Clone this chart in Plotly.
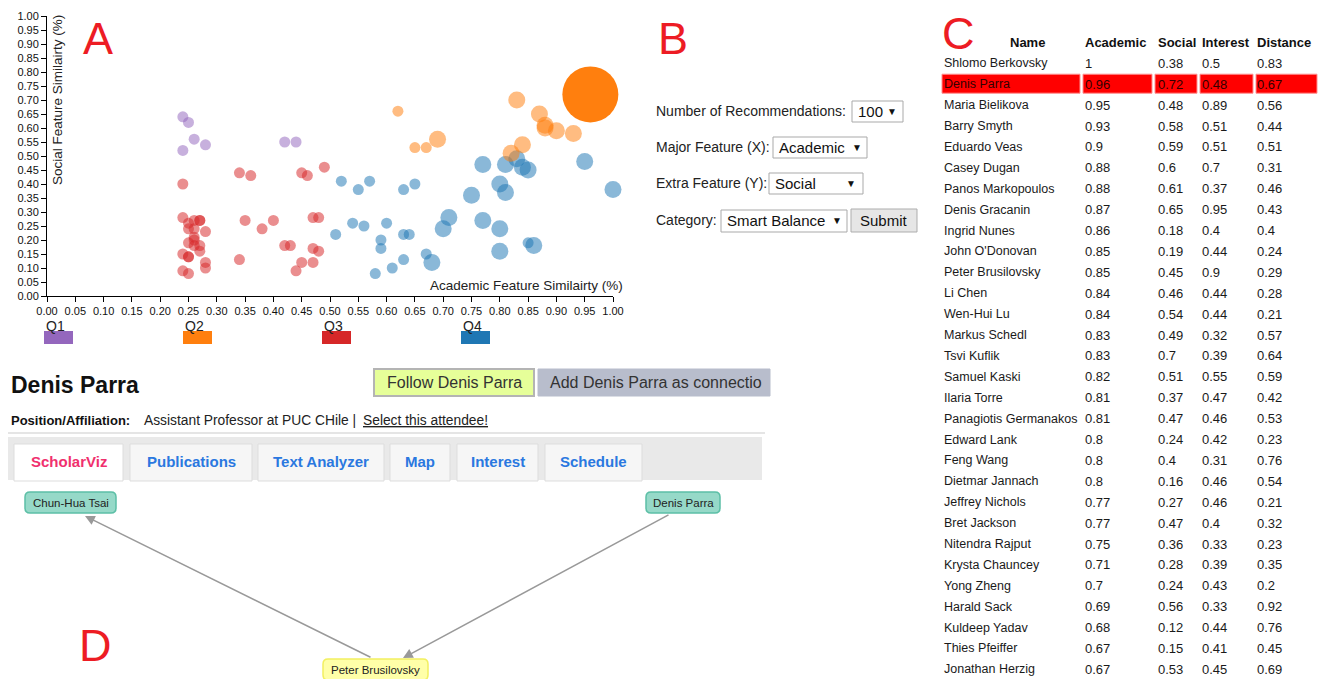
import plotly.graph_objects as go

W, H = 1325, 679
FONT = "Liberation Sans, Arial, sans-serif"

# ---- panel A: scatter data (academic = x, social = y) ----
q1_academic = [0.24, 0.25, 0.26, 0.28, 0.24, 0.42, 0.44]
q1_social = [0.64, 0.62, 0.56, 0.54, 0.52, 0.55, 0.55]

q2_academic = [0.62, 0.65, 0.67, 0.69, 0.82, 0.84, 0.83, 0.87, 0.88, 0.88, 0.90, 0.93]
q2_social = [0.66, 0.53, 0.53, 0.56, 0.51, 0.54, 0.70, 0.65, 0.61, 0.60, 0.59, 0.58]
q2_large = [0, 0, 0, 1, 1, 1, 1, 1, 1, 1, 1, 1]

q3_academic = [0.24, 0.24, 0.25, 0.26, 0.27, 0.27, 0.25, 0.26, 0.28, 0.26, 0.26,
               0.25, 0.26, 0.27, 0.27, 0.24, 0.25, 0.25, 0.28, 0.28, 0.24, 0.25,
               0.34, 0.36, 0.35, 0.40, 0.38, 0.34, 0.42, 0.43, 0.45, 0.46, 0.49,
               0.47, 0.48, 0.47, 0.48, 0.45, 0.47, 0.44]
q3_social = [0.40, 0.28, 0.26, 0.27, 0.27, 0.27, 0.24, 0.24, 0.23, 0.20, 0.21,
             0.19, 0.18, 0.18, 0.16, 0.15, 0.14, 0.14, 0.12, 0.10, 0.09, 0.08,
             0.44, 0.43, 0.27, 0.27, 0.24, 0.13, 0.18, 0.18, 0.44, 0.43, 0.46,
             0.28, 0.28, 0.17, 0.16, 0.12, 0.12, 0.09]

q4_academic = [1.00, 0.95, 0.77, 0.81, 0.83, 0.84, 0.85, 0.80, 0.81, 0.75, 0.71,
               0.70, 0.77, 0.80, 0.80, 0.86, 0.68, 0.85, 0.67, 0.52, 0.55, 0.57,
               0.63, 0.65, 0.54, 0.56, 0.60, 0.51, 0.63, 0.64, 0.59, 0.59, 0.63,
               0.61, 0.58]
q4_social = [0.38, 0.48, 0.47, 0.47, 0.49, 0.46, 0.45, 0.40, 0.37, 0.36, 0.28,
             0.24, 0.27, 0.24, 0.16, 0.18, 0.12, 0.19, 0.15, 0.41, 0.38, 0.41,
             0.38, 0.40, 0.26, 0.25, 0.26, 0.22, 0.22, 0.22, 0.20, 0.17, 0.13,
             0.10, 0.08]
q4_large = [1, 1, 1, 1, 1, 1, 1, 1, 1, 1, 1, 1, 1, 1, 1, 1, 1, 0, 0, 0, 0, 0,
            0, 0, 0, 0, 0, 0, 0, 0, 0, 0, 0, 0, 0]

selected_name = "Denis Parra"
selected_academic = [0.96]
selected_social = [0.72]

quadrants = ["Q1", "Q2", "Q3", "Q4"]
quad_colors = ["#9467bd", "#ff7f0e", "#d62728", "#1f77b4"]

# ---- panel C: table ----
names = ["Shlomo Berkovsky", "Denis Parra", "Maria Bielikova", "Barry Smyth",
         "Eduardo Veas", "Casey Dugan", "Panos Markopoulos", "Denis Gracanin",
         "Ingrid Nunes", "John O'Donovan", "Peter Brusilovsky", "Li Chen",
         "Wen-Hui Lu", "Markus Schedl", "Tsvi Kuflik", "Samuel Kaski",
         "Ilaria Torre", "Panagiotis Germanakos", "Edward Lank", "Feng Wang",
         "Dietmar Jannach", "Jeffrey Nichols", "Bret Jackson", "Nitendra Rajput",
         "Krysta Chauncey", "Yong Zheng", "Harald Sack", "Kuldeep Yadav",
         "Thies Pfeiffer", "Jonathan Herzig"]
academic = ["1", "0.96", "0.95", "0.93", "0.9", "0.88", "0.88", "0.87", "0.86",
            "0.85", "0.85", "0.84", "0.84", "0.83", "0.83", "0.82", "0.81", "0.81",
            "0.8", "0.8", "0.8", "0.77", "0.77", "0.75", "0.71", "0.7", "0.69",
            "0.68", "0.67", "0.67"]
social = ["0.38", "0.72", "0.48", "0.58", "0.59", "0.6", "0.61", "0.65", "0.18",
          "0.19", "0.45", "0.46", "0.54", "0.49", "0.7", "0.51", "0.37", "0.47",
          "0.24", "0.4", "0.16", "0.27", "0.47", "0.36", "0.28", "0.24", "0.56",
          "0.12", "0.15", "0.53"]
interest = ["0.5", "0.48", "0.89", "0.51", "0.51", "0.7", "0.37", "0.95", "0.4",
            "0.44", "0.9", "0.44", "0.44", "0.32", "0.39", "0.55", "0.47", "0.46",
            "0.42", "0.31", "0.46", "0.46", "0.4", "0.33", "0.39", "0.43", "0.33",
            "0.44", "0.41", "0.45"]
distance = ["0.83", "0.67", "0.56", "0.44", "0.51", "0.31", "0.46", "0.43", "0.4",
            "0.24", "0.29", "0.28", "0.21", "0.57", "0.64", "0.59", "0.42", "0.53",
            "0.23", "0.76", "0.54", "0.21", "0.32", "0.23", "0.35", "0.2", "0.92",
            "0.76", "0.45", "0.69"]
table_headers = ["Name", "Academic", "Social", "Interest", "Distance"]

tabs = ["ScholarViz", "Publications", "Text Analyzer", "Map", "Interest", "Schedule"]


def X(px):
    return px / W


def Y(py):
    return 1 - py / H


fig = go.Figure()


def text(x, y, s, size=13, color="#222", bold=False, anchor="left", angle=0):
    if bold:
        s = "<b>" + s + "</b>"
    fig.add_annotation(x=X(x), y=Y(y), xref="paper", yref="paper", text=s,
                       showarrow=False, xanchor=anchor, yanchor="middle",
                       textangle=angle, borderpad=0,
                       font=dict(family=FONT, size=size, color=color))


def rect(x0, y0, x1, y1, fill, line="rgba(0,0,0,0)", width=1):
    fig.add_shape(type="rect", xref="paper", yref="paper",
                  x0=X(x0), x1=X(x1), y0=Y(y1), y1=Y(y0),
                  fillcolor=fill, line=dict(color=line, width=width), layer="below")


def round_rect(x0, y0, x1, y1, fill, line, r=5, width=1.5):
    rx, ry = r / W, r / H
    a, b, c, d = X(x0), X(x1), Y(y1), Y(y0)
    path = (f"M{a+rx},{c} L{b-rx},{c} Q{b},{c} {b},{c+ry} L{b},{d-ry} "
            f"Q{b},{d} {b-rx},{d} L{a+rx},{d} Q{a},{d} {a},{d-ry} "
            f"L{a},{c+ry} Q{a},{c} {a+rx},{c} Z")
    fig.add_shape(type="path", xref="paper", yref="paper", path=path,
                  fillcolor=fill, line=dict(color=line, width=width))


# ---- scatter traces ----
def sizes(flags):
    return [17 if f else 11 for f in flags]


def add_points(xs, ys, color, size, opacity=0.52):
    fig.add_trace(go.Scatter(x=xs, y=ys, mode="markers", cliponaxis=False,
                             marker=dict(color=color, size=size, opacity=opacity,
                                         line=dict(width=0))))


add_points(q4_academic, q4_social, quad_colors[3], sizes(q4_large))
add_points(q3_academic, q3_social, quad_colors[2], 11)
add_points(q1_academic, q1_social, quad_colors[0], 11)
add_points(q2_academic, q2_social, quad_colors[1], sizes(q2_large))
add_points(selected_academic, selected_social, quad_colors[1], 56, opacity=1)

axis_style = dict(range=[0, 1], dtick=0.05, tickformat=".2f", showgrid=False,
                  zeroline=False, showline=True, linecolor="#000", linewidth=1,
                  ticks="outside", ticklen=5, tickcolor="#000", automargin=False,
                  tickfont=dict(family=FONT, size=11, color="#111"))
fig.update_layout(
    width=W, height=H, margin=dict(l=0, r=0, t=0, b=0, pad=0, autoexpand=False),
    paper_bgcolor="white", plot_bgcolor="white", showlegend=False,
    xaxis=dict(domain=[X(47), X(613)], anchor="y", **axis_style),
    yaxis=dict(domain=[Y(296), Y(16)], anchor="x", **axis_style),
)

# axis titles
text(57, 100, "Social Feature Similairty (%)", size=13.5, angle=-90, anchor="center")
text(624, 285, "Academic Feature Similairty (%)", size=13.5, anchor="right")

# quadrant legend
q_left = [45, 184, 323, 462]
for q, c, x0 in zip(quadrants, quad_colors, q_left):
    text(x0, 326, q, size=14, color="#222")
    fig.add_shape(type="rect", xref="paper", yref="paper",
                  x0=X(x0 - 1), x1=X(x0 + 28), y0=Y(344), y1=Y(331),
                  fillcolor=c, line=dict(width=0), layer="above")

# panel letters
for letter, lx, ly in [("A", 98, 38), ("B", 673, 38), ("C", 958, 33), ("D", 95, 645)]:
    text(lx, ly, letter, size=45, color="#ed1c24", anchor="center")

# ---- panel B: controls ----
text(655, 111, "Number of Recommendations:", size=14)
text(655, 147, "Major Feature (X):", size=14)
text(655, 183, "Extra Feature (Y):", size=14)
text(655, 220, "Category:", size=14)
for x0, y0, x1, y1, label, arrow_x in [(852, 101, 903, 122, "100", 892),
                                       (773, 137, 867, 158, "Academic", 857),
                                       (769, 173, 863, 194, "Social", 851),
                                       (721, 210, 847, 232, "Smart Balance", 837)]:
    rect(x0, y0, x1, y1, "white", "#a9a9a9", 1)
    text(x0 + 5, (y0 + y1) / 2, label, size=15, color="#111")
    text(arrow_x, (y0 + y1) / 2, "▼", size=10, color="#111", anchor="center")
rect(851, 209, 917, 232, "#e6e6e6", "#adadad", 1)
text(884, 221, "Submit", size=15, color="#111", anchor="center")

# ---- panel C: table ----
col_x = [943, 1084, 1157, 1201, 1256]
for h, cx in zip(table_headers, col_x):
    if h == "Name":
        text(1027, 42, h, size=13, bold=True, anchor="center", color="#111")
    else:
        text(cx, 42, h, size=13, bold=True, color="#111")

row_y0, row_h = 63.3, 20.9
hl = names.index(selected_name)
yc = row_y0 + hl * row_h
for x0, x1 in [(942, 1080), (1083, 1152), (1155, 1197), (1200, 1253), (1256, 1317)]:
    rect(x0, yc - 10, x1, yc + 9, "#ff0000", "#ff9090", 1)

for i, row in enumerate(zip(names, academic, social, interest, distance)):
    y = row_y0 + i * row_h
    for j, (val, cx) in enumerate(zip(row, col_x)):
        text(cx, y, val, size=12.5 if j == 0 else 13,
             color="#300" if i == hl else "#1a1a1a")

# ---- person header ----
text(10, 385, "Denis Parra", size=23, bold=True, color="#111")
rect(374, 369, 534, 396, "#e6ff99", "#b4b4b4", 2)
text(454, 382, "Follow Denis Parra", size=16, color="#333", anchor="center")
rect(538, 369, 770, 396, "#b8bdcc", "#b8bdcc", 1)
text(549, 382, "Add Denis Parra as connectio", size=16, color="#333")
text(10, 420, "Position/Affiliation:", size=13, bold=True, color="#111")
text(143, 420, "Assistant Professor at PUC CHile |", size=13.8, color="#222")
text(362, 420, "<u>Select this attendee!</u>", size=13.8, color="#222")
fig.add_shape(type="line", xref="paper", yref="paper", x0=X(8), x1=X(765),
              y0=Y(433), y1=Y(433), line=dict(color="#dcdcdc", width=1.5))

# tab bar
rect(8, 437, 762, 480, "#e9e9e9")
tab_x = [(14, 123), (130, 252), (258, 384), (390, 450), (457, 538), (545, 642)]
for i, (t, (x0, x1)) in enumerate(zip(tabs, tab_x)):
    rect(x0, 444, x1, 481, "white" if i == 0 else "#f6f6f6", "#dddddd", 1)
    text((x0 + x1) / 2, 461, t, size=15, bold=True, anchor="center",
         color="#f0306e" if i == 0 else "#2a78e0")

# ---- panel D: co-author graph ----
graph_nodes = ["Chun-Hua Tsai", "Denis Parra", "Peter Brusilovsky"]
node_box = [(25, 492, 116, 513), (646, 492, 720, 513), (323, 659, 428, 680)]
node_fill = [("#96d9c8", "#5cbfa6"), ("#96d9c8", "#5cbfa6"), ("#ffffa8", "#f2f060")]
graph_edges = [("Peter Brusilovsky", "Chun-Hua Tsai"), ("Denis Parra", "Peter Brusilovsky")]
edge_pts = {("Peter Brusilovsky", "Chun-Hua Tsai"): ((372, 658), (85, 516)),
            ("Denis Parra", "Peter Brusilovsky"): ((670, 514), (403, 658))}
for e in graph_edges:
    (tx, ty), (hx, hy) = edge_pts[e]
    fig.add_annotation(x=X(hx), y=Y(hy), xref="paper", yref="paper",
                       ax=tx - hx, ay=ty - hy, axref="pixel", ayref="pixel",
                       text="", showarrow=True, arrowhead=2, arrowsize=1.3,
                       arrowwidth=1.5, arrowcolor="#999999")
for name, (x0, y0, x1, y1), (fc, lc) in zip(graph_nodes, node_box, node_fill):
    round_rect(x0, y0, x1, y1, fc, lc)
    text((x0 + x1) / 2, (y0 + y1) / 2, name, size=11.5, color="#222", anchor="center")

fig.write_html("out.html", config={"displayModeBar": False},
               post_script="document.body.style.margin='0';"
                           "document.body.style.overflow='hidden';")
